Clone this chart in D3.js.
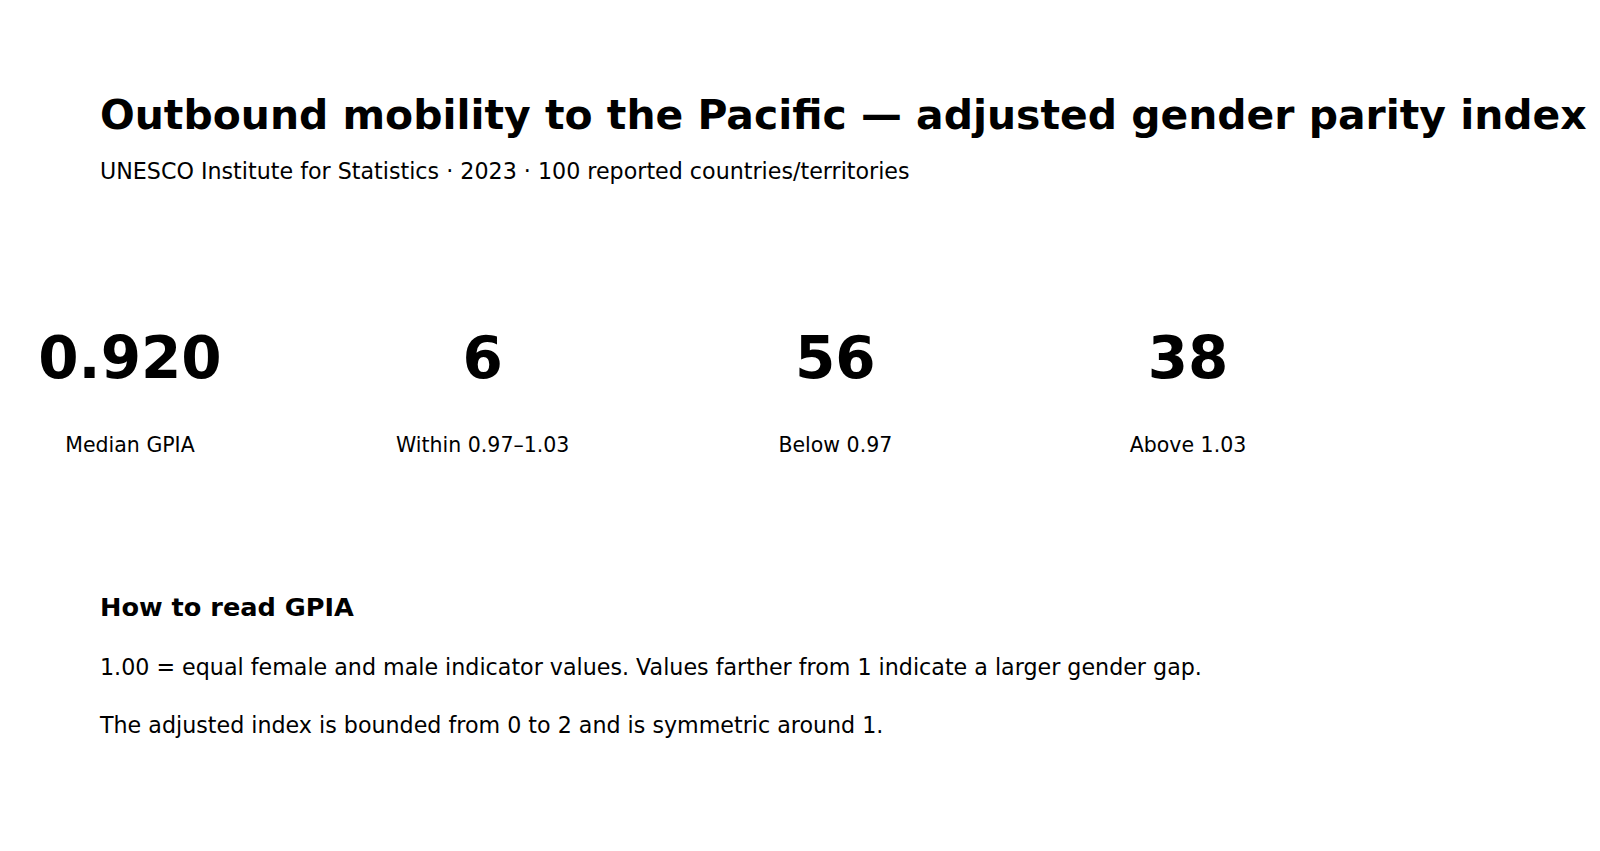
<!DOCTYPE html>
<html>
<head>
<meta charset="utf-8">
<script src="https://cdn.jsdelivr.net/npm/d3@7"></script>
<style>
  html, body { margin: 0; padding: 0; background: #fff; }
  svg text { font-family: "DejaVu Sans", sans-serif; fill: #000; }
</style>
</head>
<body>
<div id="chart"></div>
<script>
// Veriler
const titleText = 'Outbound mobility to the Pacific \u2014 adjusted gender parity index';
const subtitleText = 'UNESCO Institute for Statistics \u00b7 2023 \u00b7 100 reported countries/territories';
const kpiLabels = ['Median GPIA', 'Within 0.97\u20131.03', 'Below 0.97', 'Above 1.03'];
const kpiValues = ['0.920', '6', '56', '38'];
const noteTitle = 'How to read GPIA';
const noteLines = [
    '1.00 = equal female and male indicator values. Values farther from 1 indicate a larger gender gap.',
    'The adjusted index is bounded from 0 to 2 and is symmetric around 1.'
];

const width = 1600;
const height = 851;

const svg = d3.select('#chart')
    .append('svg')
    .attr('width', width)
    .attr('height', height);

// Başlık
svg.append('text')
    .attr('x', 100)
    .attr('y', 129)
    .attr('font-size', 40.9)
    .attr('font-weight', 'bold')
    .text(titleText);

svg.append('text')
    .attr('x', 100)
    .attr('y', 179)
    .attr('font-size', 22.2)
    .text(subtitleText);

// KPI kutuları
const x = d3.scalePoint()
    .domain(kpiLabels)
    .range([130, 1188]);

const kpi = svg.append('g')
    .selectAll('g')
    .data(kpiLabels)
    .enter()
    .append('g')
    .attr('transform', d => `translate(${x(d)},0)`);

kpi.append('text')
    .attr('y', 378)
    .attr('text-anchor', 'middle')
    .attr('font-size', 58)
    .attr('font-weight', 'bold')
    .text((d, i) => kpiValues[i]);

kpi.append('text')
    .attr('y', 452)
    .attr('text-anchor', 'middle')
    .attr('font-size', 20.5)
    .text(d => d);

// Açıklama
svg.append('text')
    .attr('x', 100)
    .attr('y', 616)
    .attr('font-size', 25.6)
    .attr('font-weight', 'bold')
    .text(noteTitle);

svg.append('g')
    .selectAll('text')
    .data(noteLines)
    .enter()
    .append('text')
    .attr('x', 100)
    .attr('y', (d, i) => 675 + i * 58)
    .attr('font-size', 22.2)
    .text(d => d);
</script>
</body>
</html>
